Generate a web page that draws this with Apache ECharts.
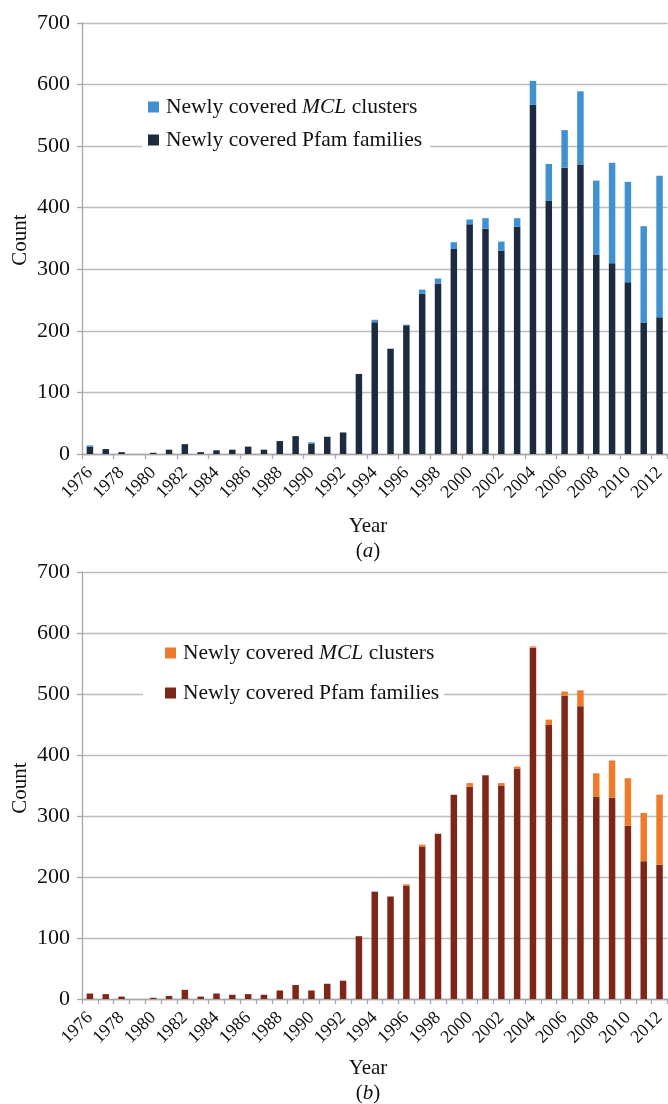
<!DOCTYPE html>
<html>
<head>
<meta charset="utf-8">
<script src="https://cdn.jsdelivr.net/npm/echarts@6/dist/echarts.min.js"></script>
<style>html,body{margin:0;padding:0;background:#fff}#c{width:668px;height:1104px}</style>
</head>
<body>
<div id="c"></div>
<script>
var years = [];
for (var y = 1976; y <= 2012; y++) years.push(String(y));
var yTicks = [0, 100, 200, 300, 400, 500, 600, 700];

var pfamA = [12,8,3,0,2,7,16,3,6,7,12,7,21,29,17,28,35,130,214,171,209,260,277,333,373,366,330,369,567,411,465,470,324,310,279,213,222];
var mclA  = [2,0,0,0,0,0,0,0,0,0,0,0,0,0,2,0,0,0,4,0,1,7,8,11,8,17,15,14,39,60,61,119,120,163,163,157,230];
var pfamB = [9,8,4,0,2,5,15,4,9,7,8,7,14,23,14,25,30,103,176,168,186,250,271,335,348,367,350,378,576,449,497,480,331,330,284,226,220];
var mclB  = [0,0,0,0,0,0,0,0,0,0,0,0,0,0,0,0,0,0,0,0,2,3,0,0,6,0,4,3,2,9,7,26,39,61,78,79,115];

var FONT = 'Liberation Serif, Times New Roman, serif';
var AX = '#a6a6a6', GRID = '#bcbcbc';

function xAxis(gi, tickInt) {
  return {
    type: 'category', gridIndex: gi, data: years,
    axisLine: {lineStyle: {color: AX, width: 1.3}},
    axisTick: {show: true, interval: tickInt, length: 5, lineStyle: {color: AX, width: 1.3}},
    axisLabel: {interval: 1, rotate: 45, margin: 16, fontFamily: FONT, fontSize: 18, color: '#111'},
    splitLine: {show: false}
  };
}
function yAxis(gi) {
  return {
    type: 'value', gridIndex: gi, min: yTicks[0], max: yTicks[yTicks.length - 1], interval: 100,
    axisLine: {show: true, lineStyle: {color: AX, width: 1.3}},
    axisTick: {show: true, length: 5, lineStyle: {color: AX, width: 1.3}},
    axisLabel: {margin: 12, fontFamily: FONT, fontSize: 22, color: '#111'},
    splitLine: {lineStyle: {color: GRID, width: 1.3}}
  };
}
function legend(top, left, gap, pad, data) {
  return {
    orient: 'vertical', top: top, left: left, itemGap: gap,
    itemWidth: 11, itemHeight: 11, icon: 'rect',
    backgroundColor: '#fff', padding: pad,
    data: data,
    formatter: function (n) {
      n = n.replace(/ [AB]$/, '');
      return n.indexOf('MCL') >= 0 ? 'Newly covered {i|MCL} clusters' : n;
    },
    textStyle: {
      fontFamily: FONT, fontSize: 21.5, lineHeight: 22, color: '#111', padding: [0, 0, 0, 2],
      rich: {i: {fontFamily: FONT, fontSize: 21.5, lineHeight: 22, fontStyle: 'italic', color: '#111'}}
    }
  };
}
function txt(x, y, s, rot) {
  return {type: 'text', x: x, y: y, rotation: rot || 0,
    style: {text: s, fontFamily: FONT, fontSize: 21, fill: '#111', align: 'center', verticalAlign: 'middle',
      rich: {i: {fontStyle: 'italic', fontFamily: FONT, fontSize: 21, fill: '#111'}}}};
}

var option = {
  animation: false,
  backgroundColor: '#fff',
  grid: [
    {left: 82, top: 23, width: 588, height: 431},
    {left: 82, top: 572, width: 588, height: 427}
  ],
  xAxis: [xAxis(0, 1), xAxis(1, 0)],
  yAxis: [yAxis(0), yAxis(1)],
  legend: [
    legend(92, 142, 11, [4, 8, 4, 6], ['Newly covered MCL clusters A', 'Newly covered Pfam families A']),
    legend(638, 143, 18, [4, 5, 4, 22], ['Newly covered MCL clusters B', 'Newly covered Pfam families B'])
  ],
  series: [
    {name: 'Newly covered Pfam families A', type: 'bar', stack: 'a', xAxisIndex: 0, yAxisIndex: 0,
      data: pfamA, barWidth: '41%', itemStyle: {color: '#1c2b3e'}},
    {name: 'Newly covered MCL clusters A', type: 'bar', stack: 'a', xAxisIndex: 0, yAxisIndex: 0,
      data: mclA, barWidth: '41%', itemStyle: {color: '#4190d2'}},
    {name: 'Newly covered Pfam families B', type: 'bar', stack: 'b', xAxisIndex: 1, yAxisIndex: 1,
      data: pfamB, barWidth: '41%', itemStyle: {color: '#7e2619'}},
    {name: 'Newly covered MCL clusters B', type: 'bar', stack: 'b', xAxisIndex: 1, yAxisIndex: 1,
      data: mclB, barWidth: '41%', itemStyle: {color: '#ee7b2d'}}
  ],
  graphic: [
    txt(20, 240, 'Count', Math.PI / 2),
    txt(20, 788, 'Count', Math.PI / 2),
    txt(368, 526, 'Year'),
    txt(368, 551, '({i|a})'),
    txt(368, 1068, 'Year'),
    txt(368, 1093, '({i|b})')
  ]
};

var chart = echarts.init(document.getElementById('c'), null, {renderer: 'canvas'});
chart.setOption(option);
</script>
</body>
</html>
